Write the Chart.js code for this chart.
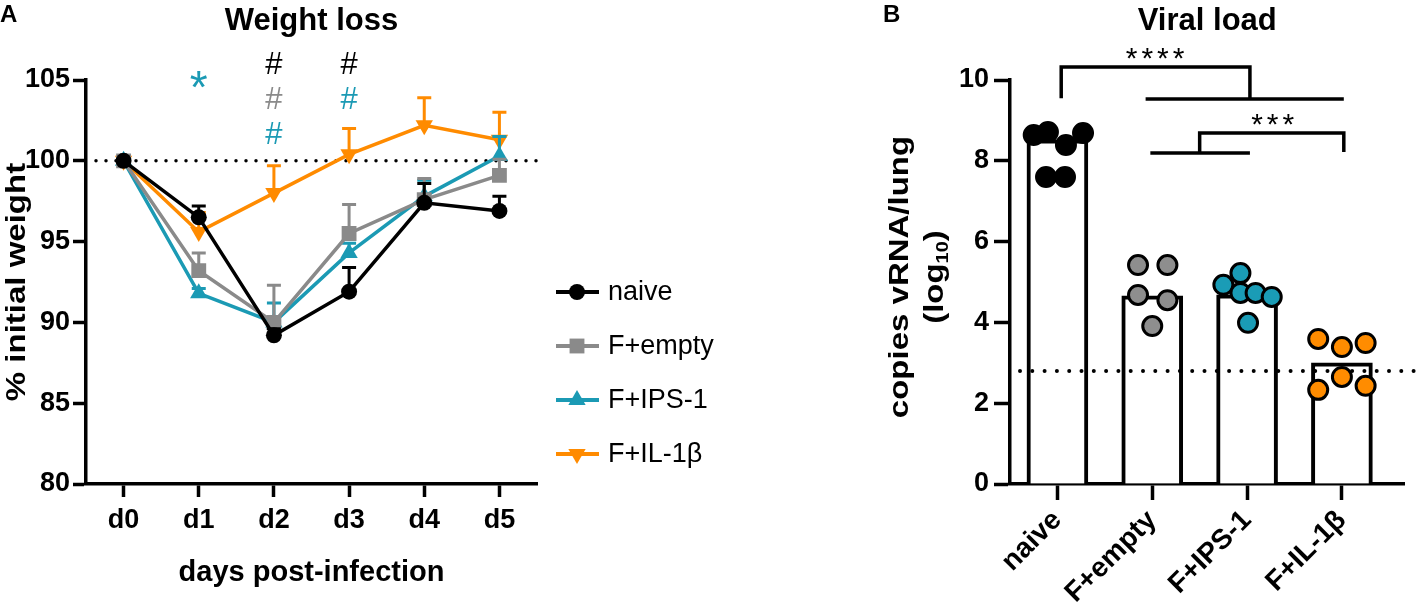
<!DOCTYPE html>
<html>
<head>
<meta charset="utf-8">
<script src="https://cdn.jsdelivr.net/npm/chart.js@4.4.0/dist/chart.umd.min.js"></script>
<style>
  html, body { margin: 0; padding: 0; background: #fff; }
  #wrapA { position: absolute; left: 0; top: 0; width: 760px; height: 615px; }
  #wrapB { position: absolute; left: 860px; top: 0; width: 557px; height: 615px; }
</style>
</head>
<body>
<div id="wrapA"><canvas id="weight"></canvas></div>
<div id="wrapB"><canvas id="viral"></canvas></div>
<script>
// ---- panel A: weight loss (mean, upper SEM) ----
const days = ['d0', 'd1', 'd2', 'd3', 'd4', 'd5']
const weightTicks = [80, 85, 90, 95, 100, 105]
const naiveWeight = [100, 96.5, 89.2, 91.9, 97.4, 96.9]
const naiveSem = [0, 0.7, 0.4, 1.5, 1.2, 0.9]
const emptyWeight = [100, 93.2, 90.0, 95.5, 97.6, 99.1]
const emptySem = [0, 1.1, 2.3, 1.8, 1.3, 1.0]
const ipsWeight = [100, 91.8, 90.0, 94.3, 97.8, 100.3]
const ipsSem = [0, 0.3, 1.2, 0.6, 1.0, 1.2]
const il1bWeight = [100, 95.6, 98.0, 100.4, 102.2, 101.3]
const il1bSem = [0, 1.2, 1.7, 1.6, 1.7, 1.7]
const baselineWeight = 100

// ---- panel B: viral load ----
const groups = ['naive', 'F+empty', 'F+IPS-1', 'F+IL-1β']
const loadTicks = [0, 2, 4, 6, 8, 10]
const medianLoad = [8.52, 4.66, 4.68, 3.0]
const naiveLoad = [8.64, 8.71, 8.39, 8.69, 7.60, 7.60]
const emptyLoad = [5.42, 5.42, 4.68, 4.55, 3.91]
const ipsLoad = [4.93, 5.22, 4.73, 4.73, 4.63, 3.99]
const il1bLoad = [3.59, 3.39, 3.49, 2.33, 2.65, 2.43]
const detectionLimit = 2.8

// horizontal scatter of the dots inside each column (layout only)
const jitter = [
  [-0.25, -0.10, 0.09, 0.27, -0.12, 0.08],
  [-0.15, 0.16, -0.15, 0.16, 0],
  [-0.25, -0.07, -0.07, 0.09, 0.26, 0.01],
  [-0.25, 0, 0.25, -0.25, 0, 0.25]
]

const BLACK = '#000000'
const GRAY = '#8a8a8a'
const TEAL = '#1b9ab4'
const ORANGE = '#ff8b00'

const FONT = '"Liberation Sans", Arial, sans-serif'
Chart.defaults.font.family = FONT
Chart.defaults.color = '#000'

function verticalTitle(ctx, cx, cy, parts, size) {
  // rotated title, a bit condensed like the figure
  ctx.save()
  ctx.translate(cx, cy)
  ctx.scale(0.85, 1)
  ctx.rotate(-Math.PI / 2)
  ctx.textBaseline = 'middle'
  ctx.fillStyle = '#000'
  const big = `bold ${size}px ${FONT}`
  const small = `bold ${Math.round(size * 0.62)}px ${FONT}`
  let total = 0
  parts.forEach(p => { ctx.font = p[1] ? small : big; total += ctx.measureText(p[0]).width })
  let x = -total / 2
  parts.forEach(p => {
    ctx.font = p[1] ? small : big
    ctx.fillText(p[0], x, p[1] ? size * 0.28 : 0)
    x += ctx.measureText(p[0]).width
  })
  ctx.restore()
}

function dottedLine(ctx, x1, x2, y, gap, width) {
  ctx.save()
  ctx.strokeStyle = '#000'
  ctx.lineWidth = width
  ctx.lineCap = 'round'
  ctx.setLineDash([0, gap])
  ctx.beginPath()
  ctx.moveTo(x1, y)
  ctx.lineTo(x2, y)
  ctx.stroke()
  ctx.restore()
}

const axisBorder = { display: true, color: '#000', width: 3.5 }
const gridA = { display: true, drawOnChartArea: false, tickLength: 13, tickWidth: 3.5, tickColor: '#000', offset: false }
const gridB = { display: true, drawOnChartArea: false, tickLength: 16, tickWidth: 3.5, tickColor: '#000', offset: false }

// ---------- panel A plugins ----------
const weightExtras = {
  id: 'weightExtras',
  beforeDatasetsDraw(chart) {
    const { ctx, chartArea, scales } = chart
    dottedLine(ctx, chartArea.left + 10, chartArea.right + 4, scales.y.getPixelForValue(baselineWeight), 10, 3.5)
  },
  beforeDatasetDraw(chart, args) {
    const ds = chart.data.datasets[args.index]
    if (!ds.sem) return
    const { ctx, scales } = chart
    ctx.save()
    ctx.strokeStyle = ds.borderColor
    ctx.lineWidth = 3
    args.meta.data.forEach((pt, i) => {
      const s = ds.sem[i]
      if (!s) return
      const top = scales.y.getPixelForValue(ds.data[i] + s)
      ctx.beginPath()
      ctx.moveTo(pt.x, pt.y)
      ctx.lineTo(pt.x, top)
      ctx.moveTo(pt.x - 7, top)
      ctx.lineTo(pt.x + 7, top)
      ctx.stroke()
    })
    ctx.restore()
  },
  afterDraw(chart) {
    const { ctx, chartArea, scales } = chart
    ctx.save()
    ctx.fillStyle = '#000'
    ctx.font = `bold 24px ${FONT}`
    ctx.textBaseline = 'middle'
    ctx.fillText('A', 0, 15)
    ctx.restore()

    verticalTitle(ctx, 17, (chartArea.top + chartArea.bottom) / 2, [['% initial weight']], 33)

    // legend drawn inside the plot, line + marker + label
    chart.data.datasets.forEach((ds, i) => {
      const y = 292 + i * 54
      ctx.save()
      ctx.strokeStyle = ds.borderColor
      ctx.lineWidth = 4
      ctx.beginPath()
      ctx.moveTo(556, y)
      ctx.lineTo(599, y)
      ctx.stroke()
      ctx.fillStyle = ds.borderColor
      if (Chart.helpers && Chart.helpers.drawPoint) {
        Chart.helpers.drawPoint(ctx, { pointStyle: ds.pointStyle, radius: ds.pointRadius, rotation: ds.pointRotation || 0, borderWidth: 0 }, 577, y)
      }
      ctx.fillStyle = '#000'
      ctx.font = `27px ${FONT}`
      ctx.textBaseline = 'middle'
      ctx.fillText(ds.label, 608, y + 1)
      ctx.restore()
    })

    // significance symbols above the days
    const marks = [
      { day: 1, text: '*', color: TEAL, row: 0.45 },
      { day: 2, text: '#', color: BLACK, row: 0 },
      { day: 2, text: '#', color: GRAY, row: 1 },
      { day: 2, text: '#', color: TEAL, row: 2 },
      { day: 3, text: '#', color: BLACK, row: 0 },
      { day: 3, text: '#', color: TEAL, row: 1 }
    ]
    ctx.save()
    ctx.textAlign = 'center'
    ctx.textBaseline = 'middle'
    marks.forEach(m => {
      const x = scales.x.getPixelForValue(m.day)
      const y = chartArea.top - 15 + m.row * 35
      ctx.fillStyle = m.color
      if (m.text === '*') {
        ctx.font = `46px ${FONT}`
        ctx.fillText(m.text, x, y + 10)
      } else {
        ctx.font = `31px ${FONT}`
        ctx.fillText(m.text, x, y)
      }
    })
    ctx.restore()
  }
}

function lineSeries(label, data, sem, color, style, radius, rotation) {
  return {
    label, data, sem,
    borderColor: color, backgroundColor: color,
    borderWidth: 3.5,
    pointStyle: style, pointRadius: radius, pointRotation: rotation || 0,
    pointBackgroundColor: color, pointBorderColor: color, pointBorderWidth: 0,
    tension: 0, fill: false
  }
}

new Chart(document.getElementById('weight'), {
  type: 'line',
  data: {
    labels: days,
    datasets: [
      lineSeries('naive', naiveWeight, naiveSem, BLACK, 'circle', 8),
      lineSeries('F+empty', emptyWeight, emptySem, GRAY, 'rect', 10.5),
      lineSeries('F+IPS-1', ipsWeight, ipsSem, TEAL, 'triangle', 10),
      lineSeries('F+IL-1β', il1bWeight, il1bSem, ORANGE, 'triangle', 10, 180)
    ]
  },
  options: {
    responsive: true,
    maintainAspectRatio: false,
    animation: false,
    layout: { padding: { top: 0, right: 223, bottom: 0, left: 0 } },
    plugins: {
      legend: { display: false },
      tooltip: { enabled: false },
      title: {
        display: true,
        text: 'Weight loss',
        fullSize: false,
        color: '#000',
        font: { size: 31, weight: 'bold' },
        padding: { top: 3, bottom: 39.8 }
      }
    },
    scales: {
      x: {
        type: 'category',
        offset: true,
        grid: gridA,
        border: axisBorder,
        ticks: { color: '#000', padding: 7, maxRotation: 0, font: { size: 27, weight: 'bold' } },
        title: { display: true, text: 'days post-infection', color: '#000', font: { size: 29, weight: 'bold' }, padding: { top: 0, bottom: 25 } },
        afterFit: s => { s.height = 131 }
      },
      y: {
        min: 80,
        max: 105,
        afterBuildTicks: s => { s.ticks = weightTicks.map(v => ({ value: v })) },
        grid: gridA,
        border: axisBorder,
        ticks: { color: '#000', padding: 3, font: { size: 27, weight: 'bold' } },
        afterFit: s => { s.width = 86 }
      }
    }
  },
  plugins: [weightExtras]
})

// ---------- panel B plugins ----------
const viralExtras = {
  id: 'viralExtras',
  afterDatasetDraw(chart, args) {
    if (args.index !== 0) return
    const { ctx, chartArea, scales } = chart
    dottedLine(ctx, chartArea.left + 10, chart.width, scales.y.getPixelForValue(detectionLimit), 12.3, 4)
  },
  afterDraw(chart) {
    const { ctx, chartArea, scales } = chart
    const X = v => scales.x.getPixelForValue(v)
    const Y = v => scales.y.getPixelForValue(v)

    ctx.save()
    ctx.fillStyle = '#000'
    ctx.font = `bold 24px ${FONT}`
    ctx.textBaseline = 'middle'
    ctx.fillText('B', 23, 15)
    ctx.restore()

    const mid = (chartArea.top + chartArea.bottom) / 2 - 5
    verticalTitle(ctx, 40, mid, [['copies vRNA/lung']], 33)
    verticalTitle(ctx, 75, mid, [['(log'], ['10', true], [')']], 33)

    // comparison brackets
    const brackets = [
      [[0.04, 9.55], [0.04, 10.32], [2.03, 10.32], [2.03, 9.53]],
      [[0.93, 9.53], [3.02, 9.53]],
      [[1.5, 8.19], [1.5, 8.69], [3.02, 8.69], [3.02, 8.22]],
      [[0.98, 8.19], [2.03, 8.19]]
    ]
    ctx.save()
    ctx.strokeStyle = '#000'
    ctx.lineWidth = 3.5
    brackets.forEach(path => {
      ctx.beginPath()
      path.forEach((p, i) => (i ? ctx.lineTo(X(p[0]), Y(p[1])) : ctx.moveTo(X(p[0]), Y(p[1]))))
      ctx.stroke()
    })
    ctx.fillStyle = '#000'
    ctx.textAlign = 'center'
    ctx.textBaseline = 'middle'
    ctx.font = `30px ${FONT}`
    ctx.letterSpacing = '4px'
    ctx.fillText('****', X(1.03) + 2, Y(10.5))
    ctx.fillText('***', X(2.27) + 2, Y(8.88))
    ctx.restore()
  }
}

const loads = [naiveLoad, emptyLoad, ipsLoad, il1bLoad]
const dotColors = ['#000000', '#8e8e8e', '#1a9cb6', '#ff8c00']

new Chart(document.getElementById('viral'), {
  type: 'bar',
  data: {
    datasets: [
      {
        type: 'bar',
        data: medianLoad.map((v, i) => ({ x: i, y: v })),
        backgroundColor: '#fff',
        borderColor: '#000',
        borderWidth: 4,
        borderSkipped: 'bottom',
        barThickness: 61,
        order: 10
      },
      ...loads.map((vals, g) => ({
        type: 'scatter',
        data: vals.map((v, j) => ({ x: g + jitter[g][j], y: v })),
        backgroundColor: dotColors[g],
        borderColor: '#000',
        pointRadius: 9.5,
        pointBorderWidth: 3,
        order: 0
      }))
    ]
  },
  options: {
    responsive: true,
    maintainAspectRatio: false,
    animation: false,
    layout: { padding: { top: 0, right: 0, bottom: 0, left: 0 } },
    plugins: {
      legend: { display: false },
      tooltip: { enabled: false },
      title: {
        display: true,
        text: 'Viral load',
        fullSize: false,
        color: '#000',
        font: { size: 31, weight: 'bold' },
        padding: { top: 3, bottom: 39.8 }
      }
    },
    scales: {
      x: {
        type: 'linear',
        offset: false,
        min: -0.5,
        max: 3.66,
        afterBuildTicks: s => { s.ticks = groups.map((g, i) => ({ value: i })) },
        grid: gridB,
        border: axisBorder,
        ticks: {
          color: '#000',
          padding: 4,
          minRotation: 45,
          maxRotation: 45,
          font: { size: 28, weight: 'bold' },
          callback: v => groups[v]
        },
        afterFit: s => { s.height = 131 }
      },
      y: {
        min: 0,
        max: 10,
        afterBuildTicks: s => { s.ticks = loadTicks.map(v => ({ value: v })) },
        grid: gridB,
        border: axisBorder,
        ticks: { color: '#000', padding: 5, font: { size: 27, weight: 'bold' } },
        afterFit: s => { s.width = 150 }
      }
    }
  },
  plugins: [viralExtras]
})
</script>
</body>
</html>
